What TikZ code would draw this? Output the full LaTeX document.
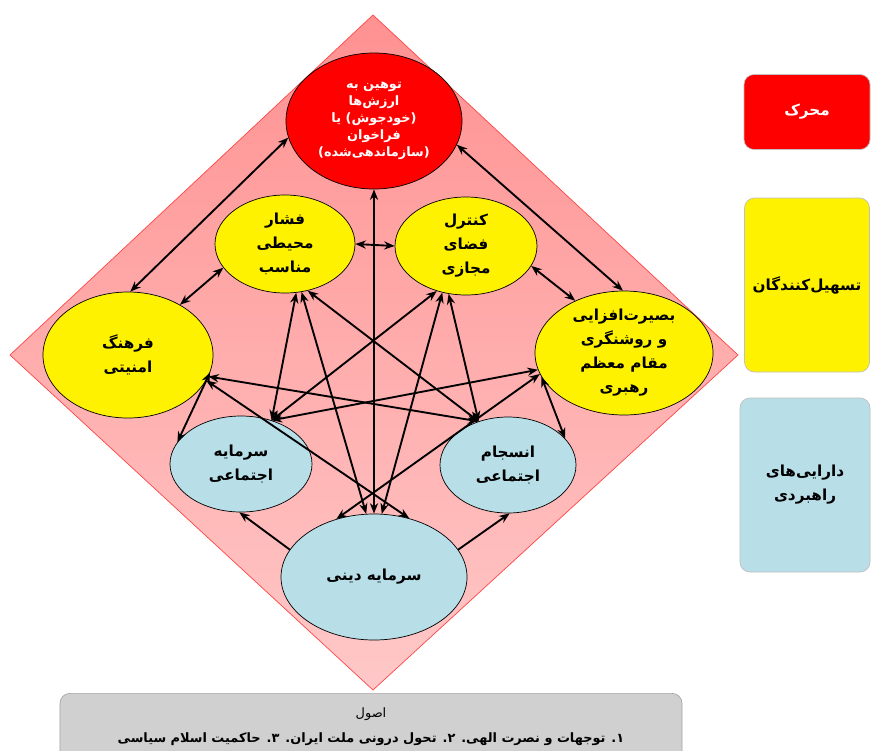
\documentclass[tikz,border=0pt]{standalone}
\usepackage{fontspec}
\usetikzlibrary{shapes.geometric,arrows.meta}
\TeXXeTstate=1
\newfontfamily\farsi[Script=Arabic]{DejaVu Sans}
\newcommand{\fa}[1]{\beginR #1\endR}
\definecolor{diamondtop}{RGB}{255,145,145}
\definecolor{diamondbottom}{RGB}{255,200,200}
\definecolor{diamondedge}{RGB}{255,70,70}
\definecolor{water}{RGB}{184,222,232}
\definecolor{boxgray}{RGB}{208,208,208}
\tikzstyle{circ}=[ellipse,draw=black,line width=0.6pt,align=center,inner sep=0pt,font=\farsi\bfseries\fontsize{13}{20.5}\selectfont]
\tikzstyle{legend}=[rectangle,rounded corners=0.3cm,draw=black!25,line width=0.6pt,align=center,font=\farsi\bfseries\fontsize{13}{20.5}\selectfont]
\tikzstyle{link}=[{Stealth[length=9pt,width=7pt]}-{Stealth[length=9pt,width=7pt]},line width=1.6pt]
\tikzstyle{oneway}=[-{Stealth[length=9pt,width=7pt]},line width=1.6pt]
\begin{document}
\begin{tikzpicture}[x=0.03cm,y=-0.03cm]
\useasboundingbox (0,0) rectangle (871,750);
\clip (0,0) rectangle (871,750);

% background diamond
\coordinate (dtop) at (373,15);
\coordinate (dright) at (738,355);
\coordinate (dbottom) at (373,690);
\coordinate (dleft) at (10,355);
\shade[top color=diamondtop,bottom color=diamondbottom] (dtop) -- (dright) -- (dbottom) -- (dleft) -- cycle;
\draw[diamondedge,line width=0.6pt] (dtop) -- (dright) -- (dbottom) -- (dleft) -- cycle;

% driver
\node[circ,fill=red,text=white,minimum width=5.28cm,minimum height=4.08cm,font=\farsi\bfseries\fontsize{11}{14.5}\selectfont] (drive) at (374,121)
  {\fa{توهین به}\\\fa{ارزش‌ها}\\\fa{(خودجوش) یا}\\\fa{فراخوان}\\\fa{(سازماندهی‌شده)}};

% facilitators
\node[circ,fill=yellow,minimum width=4.2cm,minimum height=2.94cm] (pressure) at (285,244)
  {\fa{فشار}\\\fa{محیطی}\\\fa{مناسب}};
\node[circ,fill=yellow,minimum width=4.26cm,minimum height=2.94cm] (cyber) at (466,246)
  {\fa{کنترل}\\\fa{فضای}\\\fa{مجازی}};
\node[circ,fill=yellow,minimum width=5.1cm,minimum height=3.78cm] (culture) at (128,355)
  {\fa{فرهنگ}\\\fa{امنیتی}};
\node[circ,fill=yellow,minimum width=5.34cm,minimum height=3.72cm] (insight) at (624,353)
  {\fa{بصیرت‌افزایی}\\\fa{و روشنگری}\\\fa{مقام معظم}\\\fa{رهبری}};

% strategic assets
\node[circ,fill=water,minimum width=4.26cm,minimum height=2.88cm] (social) at (241,464)
  {\fa{سرمایه}\\\fa{اجتماعی}};
\node[circ,fill=water,minimum width=4.08cm,minimum height=2.88cm] (cohesion) at (508,465)
  {\fa{انسجام}\\\fa{اجتماعی}};
\node[circ,fill=water,minimum width=5.58cm,minimum height=3.78cm] (religious) at (374,577)
  {\fa{سرمایه دینی}};

% connectors
\foreach \a/\b in {drive.191/culture.88, drive.344/insight.91, drive.270/religious.90,
    pressure.0/cyber.180, pressure.201/culture.44, cyber.343/insight.133,
    culture.348/social.161, insight.196/cohesion.25,
    pressure.283/social.55, pressure.289/religious.97, pressure.296/cohesion.124,
    cyber.237/social.55, cyber.243/religious.83, cyber.250/cohesion.124,
    culture.345/cohesion.124, culture.342/religious.59,
    insight.191/social.55, insight.194/religious.123}
  \draw[link] (\a) -- (\b);
\draw[oneway] (religious.162) -- (social.268);
\draw[oneway] (religious.18) -- (cohesion.272);

% legend
\node[legend,fill=red,text=white,minimum width=3.78cm,minimum height=2.25cm] (motor) at (807,112) {\fa{محرک}};
\node[legend,fill=yellow,minimum width=3.75cm,minimum height=5.22cm] (ease) at (807,285) {\fa{تسهیل‌کنندگان}};
\node[legend,fill=water,minimum width=3.9cm,minimum height=5.22cm] (assets) at (805,485)
  {\fa{دارایی‌های}\\\fa{راهبردی}};

% principles
\node[rectangle,rounded corners=0.3cm,draw=black!35,fill=boxgray,line width=0.6pt,minimum width=18.66cm,minimum height=2.4cm,anchor=north] (base) at (371,693) {};
\node[font=\farsi\fontsize{11}{14}\selectfont] (basetitle) at (371,714) {\fa{اصول}};
\node[font=\farsi\bfseries\fontsize{11}{14}\selectfont] (baselist) at (371,739)
  {\fa{۱\kern0pt. توجهات و نصرت الهی. ۲\kern0pt. تحول درونی ملت ایران. ۳\kern0pt. حاکمیت اسلام سیاسی}};
\end{tikzpicture}
\end{document}
